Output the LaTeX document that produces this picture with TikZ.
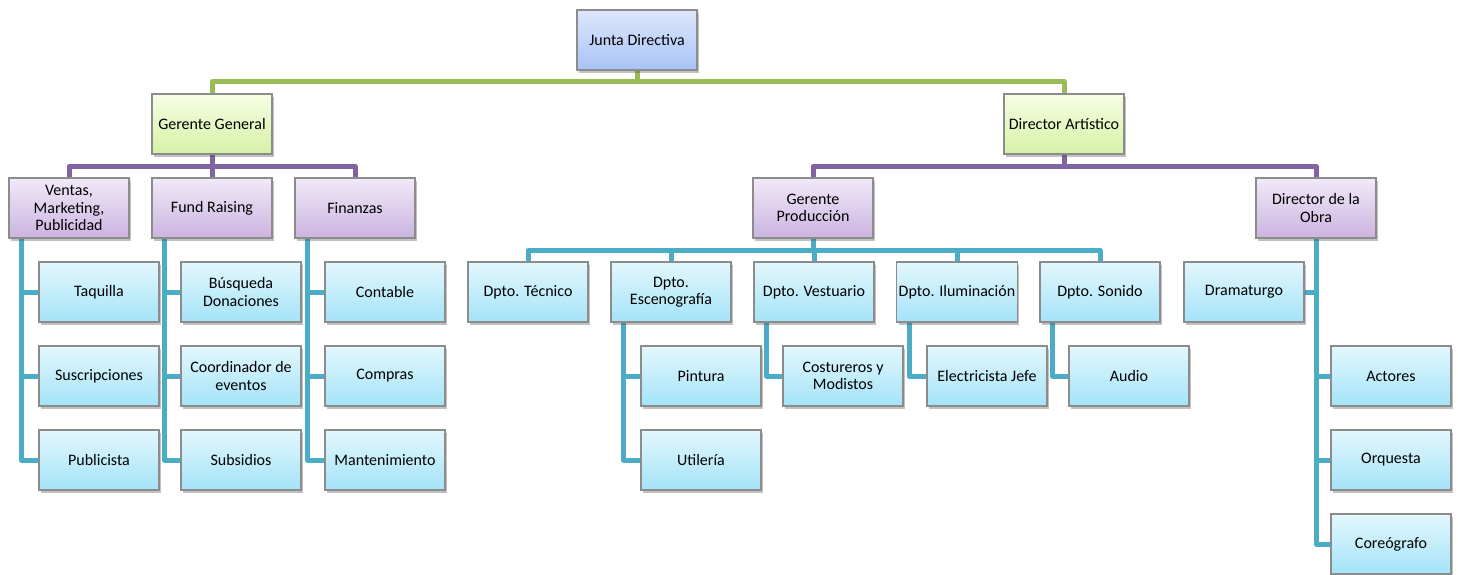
\documentclass[tikz,border=0pt]{standalone}
\usepackage{fontspec}
\setmainfont{Carlito}
\usetikzlibrary{shadows,backgrounds}
\definecolor{gline}{HTML}{9BBB59}
\definecolor{pline}{HTML}{8064A2}
\definecolor{bline}{HTML}{4BACC6}
\definecolor{bordc}{HTML}{8C8C8C}
\definecolor{topA}{HTML}{DDE7FD}\definecolor{topB}{HTML}{A8C3F6}
\definecolor{grA}{HTML}{F6FEE3}\definecolor{grB}{HTML}{D6F1A6}
\definecolor{puA}{HTML}{F1E9F8}\definecolor{puB}{HTML}{CBB4E0}
\definecolor{blA}{HTML}{E3F7FD}\definecolor{blB}{HTML}{A4E3F8}
\tikzset{
  box/.style={draw=bordc, line width=1.2pt, minimum width=120pt, minimum height=60pt,
    inner sep=2pt, align=center, font=\fontsize{16}{17.5}\selectfont,
    drop shadow={shadow xshift=2pt, shadow yshift=-3pt, opacity=0.35, fill=black!70}},
  topbox/.style={box, top color=topA, bottom color=topB},
  greenbox/.style={box, top color=grA, bottom color=grB},
  purplebox/.style={box, top color=puA, bottom color=puB},
  bluebox/.style={box, top color=blA, bottom color=blB},
  gconn/.style={draw=gline, line width=5pt, line join=round},
  pconn/.style={draw=pline, line width=5pt, line join=round},
  bconn/.style={draw=bline, line width=5pt, line join=round},
}
\begin{document}
\begin{tikzpicture}[x=1pt,y=-1pt]
\useasboundingbox (0,0) rectangle (1458,574);
\clip (0,0) rectangle (1458,574);
% level 0
\node[topbox] (junta) at (637,40) {Junta Directiva};
% level 1
\node[greenbox] (gg) at (212,124) {Gerente General};
\node[greenbox] (da) at (1064,124) {Director Artístico};
% level 2
\node[purplebox] (ventas) at (69,208) {Ventas,\\Marketing,\\Publicidad};
\node[purplebox] (fund) at (212,208) {Fund Raising};
\node[purplebox] (fin) at (355,208) {Finanzas};
\node[purplebox] (gp) at (813,208) {Gerente\\Producción};
\node[purplebox] (obra) at (1316,208) {Director de la\\Obra};
% ventas children
\node[bluebox] (taq) at (99,292) {Taquilla};
\node[bluebox] (susc) at (99,376) {Suscripciones};
\node[bluebox] (publ) at (99,460) {Publicista};
% fund children
\node[bluebox] (busq) at (241,292) {Búsqueda\\Donaciones};
\node[bluebox] (coord) at (241,376) {Coordinador de\\eventos};
\node[bluebox] (subs) at (241,460) {Subsidios};
% finanzas children
\node[bluebox] (cont) at (385,292) {Contable};
\node[bluebox] (comp) at (385,376) {Compras};
\node[bluebox] (mant) at (385,460) {Mantenimiento};
% departments
\node[bluebox] (tec) at (528,292) {Dpto. Técnico};
\node[bluebox] (esc) at (671,292) {Dpto.\\Escenografía};
\node[bluebox] (vest) at (814,292) {Dpto. Vestuario};
\node[bluebox] (ilum) at (957,292) {Dpto. Iluminación};
\node[bluebox] (son) at (1100,292) {Dpto. Sonido};
\node[bluebox] (drama) at (1244,292) {Dramaturgo};
% dept children
\node[bluebox] (pint) at (701,376) {Pintura};
\node[bluebox] (util) at (701,460) {Utilería};
\node[bluebox] (cost) at (843,376) {Costureros y\\Modistos};
\node[bluebox] (elec) at (987,376) {Electricista Jefe};
\node[bluebox] (audio) at (1129,376) {Audio};
% obra children
\node[bluebox] (act) at (1391,376) {Actores};
\node[bluebox] (orq) at (1391,460) {Orquesta};
\node[bluebox] (core) at (1391,544) {Coreógrafo};

\begin{scope}[on background layer]
% green
\draw[gconn] (junta.south) -- ++(0,11) -| (gg.north);
\draw[gconn] (junta.south) -- ++(0,11) -| (da.north);
% purple
\draw[pconn] (gg.south) -- ++(0,12) -| (ventas.north);
\draw[pconn] (gg.south) -- (fund.north);
\draw[pconn] (gg.south) -- ++(0,12) -| (fin.north);
\draw[pconn] (da.south) -- ++(0,12) -| (gp.north);
\draw[pconn] (da.south) -- ++(0,12) -| (obra.north);
% blue bus
\foreach \d in {tec,esc,vest,ilum,son}
  \draw[bconn] (gp.south) -- ++(0,12) -| (\d.north);
% side connectors
\foreach \c in {taq,susc,publ}
  \draw[bconn] ([xshift=13pt]ventas.south west) |- (\c.west);
\foreach \c in {busq,coord,subs}
  \draw[bconn] ([xshift=13pt]fund.south west) |- (\c.west);
\foreach \c in {cont,comp,mant}
  \draw[bconn] ([xshift=13pt]fin.south west) |- (\c.west);
\foreach \c in {pint,util}
  \draw[bconn] ([xshift=13pt]esc.south west) |- (\c.west);
\draw[bconn] ([xshift=13pt]vest.south west) |- (cost.west);
\draw[bconn] ([xshift=13pt]ilum.south west) |- (elec.west);
\draw[bconn] ([xshift=13pt]son.south west) |- (audio.west);
\draw[bconn] (obra.south) |- (drama.east);
\foreach \c in {act,orq,core}
  \draw[bconn] (obra.south) |- (\c.west);
\end{scope}
\end{tikzpicture}
\end{document}
